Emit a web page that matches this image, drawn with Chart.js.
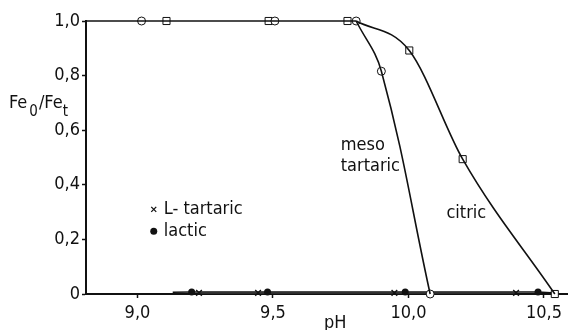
<!DOCTYPE html>
<html>
<head>
<meta charset="utf-8">
<script src="https://cdn.jsdelivr.net/npm/chart.js@4.4.1/dist/chart.umd.min.js"></script>
<style>
  html, body { margin: 0; padding: 0; background: #fff; }
  #wrap { width: 573px; height: 330px; }
</style>
</head>
<body>
<div id="wrap"><canvas id="fe-chart" width="573" height="330"></canvas></div>
<script>
// pH axis ticks and Fe0/Fet ticks
const xTicks = [9.0, 9.5, 10.0, 10.5];
const yTicks = [0, 0.2, 0.4, 0.6, 0.8, 1.0];

// meso tartaric (open circles) - first point is the line start at the axis
const mesoPH = [8.81, 9.015, 9.507, 9.807, 9.90, 10.08];
const mesoFe = [1.0, 1.0, 1.0, 1.0, 0.816, 0.0];
const mesoBreak = 3; // curve leaves the plateau here

// citric (open squares); the curve leaves the plateau at the meso circle
const citricPH = [9.107, 9.484, 9.775, 10.003, 10.20, 10.54];
const citricFe = [1.0, 1.0, 1.0, 0.892, 0.494, 0.0];
const plateauEndPH = 9.807;

// L-tartaric (crosses) and lactic (filled dots), all near zero
const ltartPH = [9.227, 9.445, 9.948, 10.397];
const ltartFe = [0.004, 0.004, 0.004, 0.004];
const lacticPH = [9.13, 9.20, 9.48, 9.988, 10.478, 10.54];
const lacticFe = [0.006, 0.007, 0.007, 0.007, 0.007, 0.004];

const FONT = '"Liberation Sans Narrow", "DejaVu Sans Condensed", "Liberation Sans", sans-serif';
const INK = "#111";

function pts(xs, ys) {
  return xs.map((x, i) => ({ x: x, y: ys[i] }));
}

function fmt(v) {
  if (Math.abs(v) < 1e-9) return "0";
  return v.toFixed(1).replace(".", ",");
}

const mesoPts = pts(mesoPH, mesoFe);
const citricPts = pts(citricPH, citricFe);

// text annotations and the in-plot legend
const notesPlugin = {
  id: "notes",
  afterDatasetsDraw(chart) {
    const ctx = chart.ctx;
    const xs = chart.scales.x;
    const ys = chart.scales.y;
    ctx.save();
    ctx.fillStyle = INK;
    ctx.strokeStyle = INK;
    ctx.textBaseline = "alphabetic";
    ctx.textAlign = "left";
    ctx.font = "18px " + FONT;
    ctx.fillText("meso", xs.getPixelForValue(9.75), ys.getPixelForValue(0.528));
    ctx.fillText("tartaric", xs.getPixelForValue(9.75), ys.getPixelForValue(0.452));
    ctx.fillText("citric", xs.getPixelForValue(10.14), ys.getPixelForValue(0.28));

    // legend
    const lx = xs.getPixelForValue(9.06);
    const ly1 = ys.getPixelForValue(0.31);
    const ly2 = ys.getPixelForValue(0.23);
    ctx.lineWidth = 1.3;
    ctx.beginPath();
    ctx.moveTo(lx - 2.5, ly1 - 2.5); ctx.lineTo(lx + 2.5, ly1 + 2.5);
    ctx.moveTo(lx + 2.5, ly1 - 2.5); ctx.lineTo(lx - 2.5, ly1 + 2.5);
    ctx.stroke();
    ctx.beginPath();
    ctx.arc(lx, ly2, 3.5, 0, Math.PI * 2);
    ctx.fill();
    ctx.textBaseline = "middle";
    ctx.fillText("L- tartaric", lx + 10, ly1);
    ctx.fillText("lactic", lx + 10, ly2);

    // y axis title Fe0/Fet with subscripts
    ctx.textBaseline = "alphabetic";
    let x = 9;
    const base = 108;
    ctx.font = "18px " + FONT;
    ctx.fillText("Fe", x, base); x += ctx.measureText("Fe").width + 2;
    ctx.font = "15px " + FONT;
    ctx.fillText("0", x, base + 8); x += ctx.measureText("0").width + 1;
    ctx.font = "18px " + FONT;
    ctx.fillText("/Fe", x, base); x += ctx.measureText("/Fe").width;
    ctx.font = "15px " + FONT;
    ctx.fillText("t", x, base + 8);

    // x axis title
    ctx.font = "18px " + FONT;
    ctx.textAlign = "center";
    ctx.fillText("pH", xs.getPixelForValue(9.73), 328);
    ctx.restore();
  }
};

const markerLine = {
  borderColor: INK,
  pointBorderColor: INK,
  pointBackgroundColor: "#fff",
  pointBorderWidth: 1,
  fill: false,
  clip: false,
};

const ctx = document.getElementById("fe-chart");
new Chart(ctx, {
  type: "line",
  data: {
    datasets: [
      {
        // meso tartaric drop
        label: "meso tartaric curve",
        data: mesoPts.slice(mesoBreak),
        borderColor: INK,
        borderWidth: 1.6,
        tension: 0.4,
        pointRadius: 0,
        fill: false,
        clip: false,
      },
      {
        // citric drop, starting where the plateau ends
        label: "citric curve",
        data: [{ x: plateauEndPH, y: 1.0 }].concat(citricPts.slice(3)),
        borderColor: INK,
        borderWidth: 1.6,
        cubicInterpolationMode: "monotone",
        pointRadius: 0,
        fill: false,
        clip: false,
      },
      {
        ...markerLine,
        label: "plateau",
        data: mesoPts.slice(0, mesoBreak + 1),
        borderWidth: 1.6,
        tension: 0,
        pointRadius: 0,
      },
      {
        ...markerLine,
        label: "meso tartaric",
        data: mesoPts,
        showLine: false,
        pointStyle: "circle",
        pointRadius: mesoPH.map((v, i) => (i === 0 ? 0 : 4)),
      },
      {
        ...markerLine,
        label: "citric",
        data: citricPts,
        showLine: false,
        pointStyle: "rect",
        pointRadius: 5,
      },
      {
        label: "lactic",
        data: pts(lacticPH, lacticFe),
        borderColor: INK,
        borderWidth: 1.5,
        tension: 0,
        pointStyle: "circle",
        pointRadius: lacticPH.map((v, i) => (i === 0 || i === lacticPH.length - 1 ? 0 : 3.5)),
        pointBorderColor: INK,
        pointBackgroundColor: INK,
        pointBorderWidth: 0,
        fill: false,
        clip: false,
      },
      {
        label: "L-tartaric",
        data: pts(ltartPH, ltartFe),
        borderColor: "#555",
        borderWidth: 1,
        tension: 0,
        pointStyle: "crossRot",
        pointRadius: 4,
        pointBorderColor: INK,
        pointBorderWidth: 1.4,
        fill: false,
        clip: false,
      },
    ],
  },
  options: {
    responsive: false,
    animation: false,
    layout: { padding: { top: 21, right: 0, left: 0, bottom: 0 } },
    plugins: {
      legend: { display: false },
      tooltip: { enabled: false },
    },
    scales: {
      x: {
        type: "linear",
        min: 8.81,
        max: 10.585,
        afterBuildTicks: (scale) => {
          scale.ticks = xTicks.map((v) => ({ value: v }));
        },
        afterFit: (scale) => {
          scale.height = 36;
        },
        grid: {
          display: true,
          drawOnChartArea: false,
          drawTicks: true,
          tickLength: 4,
          tickWidth: 1.5,
          tickColor: INK,
        },
        border: { display: true, color: INK, width: 2 },
        ticks: {
          color: INK,
          font: { family: FONT, size: 18 },
          padding: 5,
          maxRotation: 0,
          autoSkip: false,
          callback: (v) => fmt(v),
        },
      },
      y: {
        type: "linear",
        min: 0,
        max: 1.0,
        afterBuildTicks: (scale) => {
          scale.ticks = yTicks.map((v) => ({ value: v }));
        },
        afterFit: (scale) => {
          scale.width = 86;
        },
        grid: {
          display: true,
          drawOnChartArea: false,
          drawTicks: true,
          tickLength: 4,
          tickWidth: 1.5,
          tickColor: INK,
        },
        border: { display: true, color: INK, width: 2 },
        ticks: {
          color: INK,
          font: { family: FONT, size: 18 },
          padding: 2,
          autoSkip: false,
          callback: (v) => fmt(v),
        },
      },
    },
  },
  plugins: [notesPlugin],
});
</script>
</body>
</html>
